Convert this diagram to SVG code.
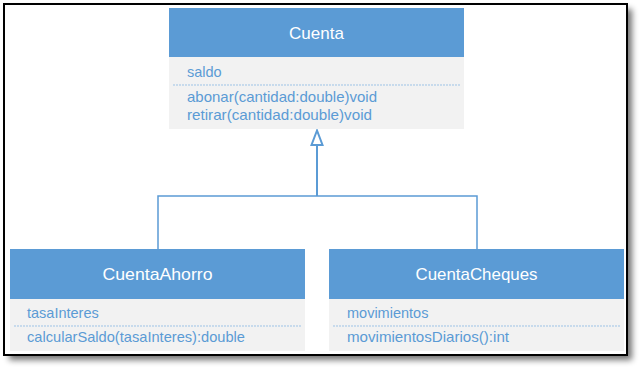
<svg xmlns="http://www.w3.org/2000/svg" width="641" height="369" viewBox="0 0 641 369">
  <defs>
    <filter id="shadow" x="-5%" y="-5%" width="115%" height="120%">
      <feGaussianBlur stdDeviation="3"/>
    </filter>
    <!-- hollow triangle for generalization; base sits at the line end -->
    <marker id="inherit" viewBox="0 0 17 14" refX="1" refY="7" markerWidth="17" markerHeight="14" markerUnits="userSpaceOnUse" orient="auto">
      <path d="M15.5 7 L1 1.5 L1 12.5 Z" fill="#ffffff" stroke="#5b9bd5" stroke-width="2" stroke-linejoin="miter"/>
    </marker>
  </defs>
  <style>
    .head { fill: #5b9bd5; }
    .body { fill: #f2f2f2; }
    .title { font-family: "Liberation Sans", Arial, sans-serif; font-size: 17px; fill: #ffffff; text-anchor: middle; }
    .member { font-family: "Liberation Sans", Arial, sans-serif; font-size: 14.5px; fill: #5b9bd5; }
    .sep { stroke: #9dc3e6; stroke-width: 1; stroke-dasharray: 2 1; }
    .conn { fill: none; stroke: #5b9bd5; }
  </style>

  <!-- frame with drop shadow -->
  <rect x="9" y="9" width="623" height="351" fill="#000000" opacity="0.55" filter="url(#shadow)"/>
  <rect x="4" y="4" width="623" height="351" fill="#ffffff" stroke="#000000" stroke-width="2"/>

  <!-- generalization connectors -->
  <g id="connectors">
    <path class="conn" d="M158 249 V196 H477 V249" stroke-width="1.5"/>
    <path class="conn" d="M317 196 V145" stroke-width="2" marker-end="url(#inherit)"/>
  </g>

  <g id="cuenta">
    <rect class="head" x="169" y="8" width="295" height="49"/>
    <rect class="body" x="169" y="57" width="295" height="72"/>
    <text class="title" x="316.5" y="39">Cuenta</text>
    <text class="member" x="187" y="77">saldo</text>
    <line class="sep" x1="173" y1="85" x2="460" y2="85"/>
    <text class="member" x="187" y="102" textLength="190" lengthAdjust="spacingAndGlyphs">abonar(cantidad:double)void</text>
    <text class="member" x="187" y="119.5" textLength="185" lengthAdjust="spacingAndGlyphs">retirar(cantidad:double)void</text>
  </g>

  <g id="cuentaAhorro">
    <rect class="head" x="10" y="249" width="295" height="50"/>
    <rect class="body" x="10" y="299" width="295" height="52"/>
    <text class="title" x="157.5" y="280" textLength="110" lengthAdjust="spacingAndGlyphs">CuentaAhorro</text>
    <text class="member" x="27" y="318">tasaInteres</text>
    <line class="sep" x1="14" y1="326" x2="301" y2="326"/>
    <text class="member" x="27" y="342" textLength="218" lengthAdjust="spacingAndGlyphs">calcularSaldo(tasaInteres):double</text>
  </g>

  <g id="cuentaCheques">
    <rect class="head" x="329" y="249" width="295" height="50"/>
    <rect class="body" x="329" y="299" width="295" height="52"/>
    <text class="title" x="476.5" y="280" textLength="122" lengthAdjust="spacingAndGlyphs">CuentaCheques</text>
    <text class="member" x="347" y="318">movimientos</text>
    <line class="sep" x1="333" y1="326" x2="620" y2="326"/>
    <text class="member" x="347" y="342" textLength="162" lengthAdjust="spacingAndGlyphs">movimientosDiarios():int</text>
  </g>
</svg>
